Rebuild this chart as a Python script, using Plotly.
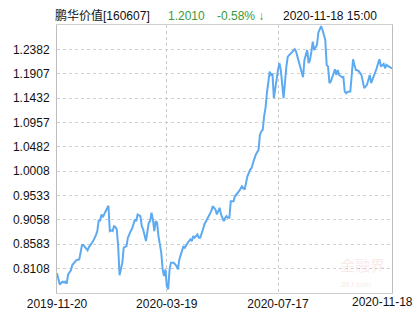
import plotly.graph_objects as go

# trading-day index (0 = 2019-11-20, 241 = 2020-11-18) and unit NAV
day_idx = [0,1,2,4,5,6,7,8,10,11,13,14,16,17,18,19,20,22,23,25,26,28,29,30,31,32,33,35,36,37,
           38,39,40,41,42,43,44,45,47,48,50,51,53,54,56,57,58,60,61,62,64,65,66,67,68,69,70,71,72,73,
           75,76,77,78,79,80,81,82,84,86,87,88,90,91,92,93,94,96,97,98,99,101,102,103,104,105,106,108,109,110,
           111,112,114,115,116,117,118,120,121,122,123,124,125,127,128,130,131,133,134,135,136,137,139,140,
           141,142,143,145,146,147,148,149,150,151,152,153,154,155,156,157,158,159,160,161,163,164,165,166,
           168,169,171,172,173,175,177,178,180,181,182,183,184,185,187,188,189,190,191,193,194,195,196,197,
           199,200,201,202,203,205,206,207,208,209,211,212,213,214,215,217,218,219,220,221,223,224,225,226,227,
           229,230,231,232,233,235,236,237,238,239,241]
nav = [0.8017,0.7900,0.7800,0.7855,0.7836,0.7855,0.7816,0.7997,0.8075,0.8178,0.8256,0.8275,0.8289,0.8419,0.8567,
       0.8567,0.8528,0.8464,0.8528,0.8613,0.8645,0.8761,0.8839,0.9047,0.9047,0.9164,0.9111,0.9228,0.9280,0.9333,
       0.8839,0.8853,0.8839,0.8936,0.8921,0.8872,0.8547,0.7978,0.8225,0.8516,0.8547,0.8711,0.8839,0.8886,0.9066,
       0.9033,0.9164,0.9131,0.8936,0.8872,0.8645,0.8872,0.9002,0.9033,0.9197,0.9066,0.8839,0.9033,0.9002,0.8742,
       0.8419,0.8094,0.7964,0.8094,0.7770,0.7706,0.8094,0.8225,0.8225,0.8159,0.8094,0.8289,0.8483,0.8547,0.8516,
       0.8580,0.8613,0.8678,0.8645,0.8742,0.8711,0.8775,0.8711,0.8711,0.8775,0.8872,0.8969,0.9066,0.9131,0.9164,
       0.9228,0.9325,0.9261,0.9164,0.9228,0.9294,0.9164,0.9033,0.9099,0.9131,0.9099,0.9099,0.9422,0.9422,0.9519,
       0.9585,0.9617,0.9714,0.9688,0.9650,0.9780,0.9908,1.0038,1.0071,1.0169,1.0266,1.0330,1.0427,1.0719,1.0783,
       1.0816,1.1075,1.1238,1.1529,1.1724,1.1949,1.1885,1.1910,1.1432,1.1650,1.1788,1.1982,1.2113,1.1982,1.1432,
       1.1788,1.2047,1.2241,1.2307,1.2338,1.2385,1.2338,1.2241,1.2015,1.1840,1.2177,1.2371,1.2113,1.2177,1.2338,
       1.2532,1.2371,1.2468,1.2708,1.2793,1.2838,1.2760,1.2566,1.2080,1.2047,1.1724,1.1755,1.1918,1.1996,1.1885,
       1.1982,1.1885,1.1840,1.1846,1.1561,1.1529,1.1555,1.1561,1.1918,1.2190,1.2080,1.1982,1.1963,1.1918,1.1885,
       1.1755,1.1627,1.1691,1.1788,1.1885,1.1724,1.1788,1.1949,1.2015,1.2113,1.2190,1.2047,1.2099,1.2015,1.2080,
       1.2060,1.2047,1.2010]

x_tick_idx = [0, 79, 159, 241]
x_tick_labels = ["2019-11-20", "2020-03-19", "2020-07-17", "2020-11-18"]
y_tick_vals = [0.8108, 0.8583, 0.9058, 0.9533, 1.0008, 1.0482, 1.0957, 1.1432, 1.1907, 1.2382]
y_tick_labels = ["0.8108", "0.8583", "0.9058", "0.9533", "1.0008", "1.0482", "1.0957", "1.1432", "1.1907", "1.2382"]
y_range = [0.7633, 1.2858]

fund_name = "鹏华价值[160607]"
last_nav = "1.2010"
change = "-0.58% ↓"
timestamp = "2020-11-18 15:00"

SANS = "Liberation Sans, Noto Sans CJK SC, sans-serif"
CJK = "Liberation Sans, Noto Sans CJK SC"

fig = go.Figure()
fig.add_trace(go.Scatter(x=day_idx, y=nav, mode="lines",
                         line=dict(color="rgb(94,170,240)", width=2),
                         hoverinfo="skip", showlegend=False))

L, R, T, B = 57, 23, 25, 37
W, H = 415, 330
pw, ph = W - L - R, H - T - B

def px_x(px):
    return (px - L) / pw

def px_y(py):
    return (H - B - py) / ph

fig.update_layout(
    width=W, height=H,
    margin=dict(l=L, r=R, t=T, b=B, pad=0),
    paper_bgcolor="white", plot_bgcolor="white",
    font=dict(family=SANS, size=12, color="#222"),
    xaxis=dict(range=[0, 241], tickmode="array", tickvals=x_tick_idx[:-1], ticktext=x_tick_labels[:-1],
               showgrid=True, gridcolor="#c8c8c8", griddash="3px,3px", gridwidth=1,
               showline=True, linecolor="#cfcfcf", linewidth=1, mirror=True,
               ticks="", zeroline=False, tickfont=dict(family=SANS, size=12, color="#111"),
               fixedrange=True),
    yaxis=dict(range=y_range, tickmode="array", tickvals=y_tick_vals, ticktext=y_tick_labels,
               showgrid=True, gridcolor="#d0d0d0", griddash="3px,3px", gridwidth=1,
               showline=True, linecolor="#bdbdbd", linewidth=1, mirror=True,
               ticks="", zeroline=False, ticklabelstandoff=4,
               tickfont=dict(family=SANS, size=12, color="#111"),
               fixedrange=True),
)

# last x tick label: shifted left to stay inside the page, as in the reference
fig.add_annotation(text=x_tick_labels[-1], xref="paper", yref="paper", x=px_x(382), y=px_y(302),
                   xanchor="center", yanchor="middle", showarrow=False,
                   font=dict(family=SANS, size=12, color="#111"))

def note(text, px, color, size=12, font=SANS):
    fig.add_annotation(text=text, xref="paper", yref="paper", x=px_x(px), y=px_y(15.5),
                       xanchor="left", yanchor="middle", showarrow=False,
                       font=dict(family=font, size=size, color=color), borderpad=0)

note(fund_name, 54, "#111", font=CJK)
note(last_nav, 167, "#3a9a3a")
note(change, 216, "#3a9a3a")
note(timestamp, 282, "#111")

# watermark
fig.add_annotation(text="金融界", xref="paper", yref="paper", x=px_x(362), y=px_y(264),
                   xanchor="center", yanchor="middle", showarrow=False,
                   font=dict(family="Noto Sans CJK SC", size=15, color="rgba(220,120,120,0.18)"))
fig.add_annotation(text="JRJ.com", xref="paper", yref="paper", x=px_x(355), y=px_y(284),
                   xanchor="center", yanchor="middle", showarrow=False,
                   font=dict(family="Liberation Sans", size=8, color="rgba(220,120,120,0.2)"))

fig.write_html("out.html", config={"displayModeBar": False})
